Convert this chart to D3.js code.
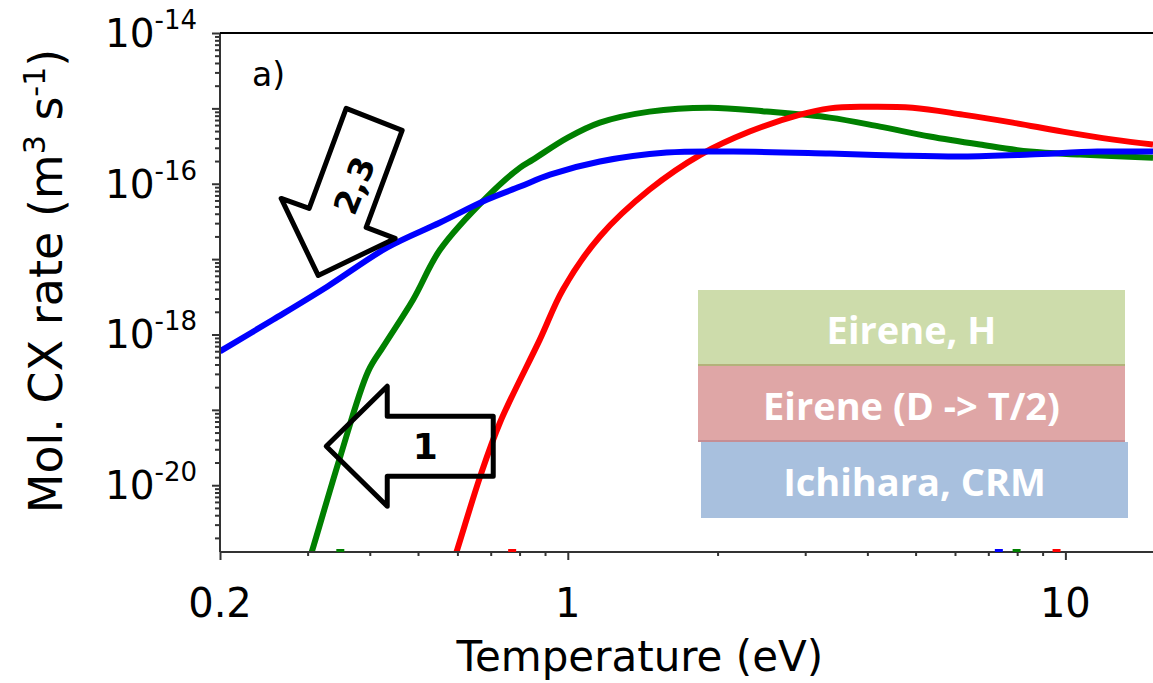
<!DOCTYPE html>
<html>
<head>
<meta charset="utf-8">
<script src="https://cdn.jsdelivr.net/npm/d3@7"></script>
<style>
  body { margin: 0; background: #fff; }
  text { font-family: 'DejaVu Sans', Verdana, sans-serif; }
</style>
</head>
<body>
<div id="chart"></div>
<script>
// Eirene, H (green)
const eireneHTemp = [0.29, 0.307, 0.349, 0.397, 0.426, 0.489, 0.554, 0.689, 0.802, 0.851, 1.0, 1.16, 1.46, 1.93, 2.51, 3.36, 4.24, 5.34, 6.73, 8.48, 10.7, 15];
const eireneHRate = [4.2e-22, 1.42e-21, 2.42e-20, 3.24e-19, 6.95e-19, 2.92e-18, 1.34e-17, 6.76e-17, 1.64e-16, 2.09e-16, 4.09e-16, 6.47e-16, 9.06e-16, 1.02e-15, 9.06e-16, 7.54e-16, 5.73e-16, 4.23e-16, 3.31e-16, 2.67e-16, 2.44e-16, 2.22e-16];

// Eirene (D -> T/2) (red)
const eireneDTemp = [0.572, 0.600, 0.667, 0.731, 0.879, 0.978, 1.16, 1.46, 1.85, 2.32, 2.93, 3.36, 3.92, 4.93, 6.22, 7.84, 9.88, 12.5, 15];
const eireneDRate = [5.35e-22, 1.42e-21, 1.32e-20, 6.84e-20, 8.61e-19, 3.96e-18, 2.0e-17, 8.38e-17, 2.44e-16, 4.92e-16, 8.26e-16, 1.0e-15, 1.05e-15, 1.02e-15, 8.26e-16, 6.47e-16, 4.92e-16, 3.85e-16, 3.31e-16];

// Ichihara, CRM (blue)
const ichiharaTemp = [0.2, 0.256, 0.329, 0.434, 0.554, 0.689, 0.802, 0.921, 1.16, 1.58, 2.15, 3.36, 4.58, 6.22, 8.48, 11.6, 15];
const ichiharaRate = [5.97e-19, 1.58e-18, 4.34e-18, 1.43e-17, 3.06e-17, 6.18e-17, 9.18e-17, 1.32e-16, 1.97e-16, 2.59e-16, 2.67e-16, 2.51e-16, 2.37e-16, 2.30e-16, 2.44e-16, 2.67e-16, 2.67e-16];

const legendLabels = ['Eirene, H', 'Eirene (D -> T/2)', 'Ichihara, CRM'];
const xTickValues = [0.2, 1, 10];
const xTickLabels = ['0.2', '1', '10'];
const yTickExponents = [-14, -16, -18, -20];

// small stray marks sitting on the x axis
const axisMarkTemp = [0.349, 0.773, 7.35, 7.98, 9.6];
const axisMarkSeries = [0, 1, 2, 0, 1];

const width = 1153, height = 683;
const colors = ['#008000', '#ff0000', '#0000ff'];
const boxFills = ['#cddcab', '#dfa6a6', '#a8c0de'];
const boxEdges = ['#b3b27a', '#c58e95', '#a8c0de'];

const svg = d3.select('#chart')
              .append('svg')
              .attr('width', width)
              .attr('height', height);

const x = d3.scaleLog()
            .domain([0.2, 15])
            .range([220, 1153]);

const y = d3.scaleLog()
            .domain([1.3e-21, 1e-14])
            .range([552, 33]);

svg.append('clipPath')
   .attr('id', 'plot-clip')
   .append('rect')
   .attr('x', 220).attr('y', 33)
   .attr('width', 933).attr('height', 519);

// legend boxes
const boxes = [
  {x: 698, y: 290, w: 427, h: 76},
  {x: 698, y: 366, w: 427, h: 76},
  {x: 701, y: 442, w: 427, h: 76}
];
boxes.forEach((b, i) => {
  svg.append('rect')
     .attr('x', b.x).attr('y', b.y)
     .attr('width', b.w).attr('height', b.h)
     .attr('fill', boxFills[i]);
  if (i < 2) {
    svg.append('line')
       .attr('x1', b.x).attr('x2', b.x + b.w)
       .attr('y1', b.y + b.h - 1).attr('y2', b.y + b.h - 1)
       .attr('stroke', boxEdges[i]).attr('stroke-width', 2);
  }
  svg.append('text')
     .attr('x', b.x + b.w / 2)
     .attr('y', b.y + 54)
     .attr('text-anchor', 'middle')
     .style('font-family', "'Open Sans', sans-serif")
     .style('font-weight', 700)
     .style('font-size', '38px')
     .attr('fill', '#fff')
     .text(legendLabels[i]);
});

// curves
const series = [
  {t: eireneHTemp, r: eireneHRate},
  {t: eireneDTemp, r: eireneDRate},
  {t: ichiharaTemp, r: ichiharaRate}
];
const line = d3.line()
               .x(d => x(d[0]))
               .y(d => y(d[1]))
               .curve(d3.curveCatmullRom.alpha(0.5));

series.forEach((s, i) => {
  svg.append('path')
     .datum(s.t.map((t, k) => [t, s.r[k]]))
     .attr('d', line)
     .attr('clip-path', 'url(#plot-clip)')
     .attr('fill', 'none')
     .attr('stroke', colors[i])
     .attr('stroke-width', 6)
     .attr('stroke-linejoin', 'round');
});

// axes
const axisColor = '#333';
const decades = (lo, hi) => d3.range(lo, hi + 1);
const yMajor = decades(-20, -14).map(e => Math.pow(10, e));
const yMinor = [];
decades(-21, -15).forEach(e => {
  d3.range(2, 10).forEach(k => {
    const v = k * Math.pow(10, e);
    if (v >= y.domain()[0] && v <= y.domain()[1]) yMinor.push(v);
  });
});
const xMinor = [];
decades(-1, 1).forEach(e => {
  d3.range(2, 10).forEach(k => {
    const v = k * Math.pow(10, e);
    if (v > 0.2 && v <= 15) xMinor.push(v);
  });
});

const yAxisMinor = d3.axisLeft(y).tickValues(yMinor).tickSize(5).tickFormat('');
const yAxisMajor = d3.axisLeft(y).tickValues(yMajor).tickSize(8).tickFormat('');
[yAxisMinor, yAxisMajor].forEach(ax => {
  svg.append('g')
     .attr('transform', 'translate(220, 0)')
     .call(ax)
     .call(g => g.select('.domain').remove())
     .call(g => g.selectAll('line').attr('stroke', axisColor).attr('stroke-width', 2));
});

const xAxisMinor = d3.axisBottom(x).tickValues(xMinor).tickSize(4).tickFormat('');
const xAxisMajor = d3.axisBottom(x).tickValues(xTickValues).tickSize(8).tickFormat('');
[xAxisMinor, xAxisMajor].forEach(ax => {
  svg.append('g')
     .attr('transform', 'translate(0, 552)')
     .call(ax)
     .call(g => g.select('.domain').remove())
     .call(g => g.selectAll('line').attr('stroke', axisColor).attr('stroke-width', 2));
});

// frame lines: left, bottom, top
svg.append('line').attr('x1', 220).attr('x2', 220).attr('y1', 33).attr('y2', 552)
   .attr('stroke', axisColor).attr('stroke-width', 2);
svg.append('line').attr('x1', 220).attr('x2', 1153).attr('y1', 552).attr('y2', 552)
   .attr('stroke', axisColor).attr('stroke-width', 2);
svg.append('line').attr('x1', 220).attr('x2', 1153).attr('y1', 33).attr('y2', 33)
   .attr('stroke', '#000').attr('stroke-width', 2);

// stray marks on the x axis
axisMarkTemp.forEach((t, i) => {
  svg.append('rect')
     .attr('x', x(t) - 4).attr('y', 549)
     .attr('width', 8).attr('height', 3)
     .attr('fill', colors[axisMarkSeries[i]]);
});

// tick labels
xTickValues.forEach((v, i) => {
  svg.append('text')
     .attr('x', x(v))
     .attr('y', 617)
     .attr('text-anchor', 'middle')
     .style('font-size', '40px')
     .text(xTickLabels[i]);
});

yTickExponents.forEach(e => {
  const t = svg.append('text')
               .attr('x', 197)
               .attr('y', y(Math.pow(10, e)) + 14)
               .attr('text-anchor', 'end')
               .style('font-size', '39px');
  t.append('tspan').text('10');
  t.append('tspan').attr('dy', -18).style('font-size', '26px').text(String(e));
});

// axis titles
svg.append('text')
   .attr('x', x(1) + 72)
   .attr('y', 671)
   .attr('text-anchor', 'middle')
   .style('font-size', '42px')
   .text('Temperature (eV)');

const yt = svg.append('text')
              .attr('transform', 'translate(62, 281) rotate(-90)')
              .attr('text-anchor', 'middle')
              .style('font-size', '46px');
yt.append('tspan').text('Mol. CX rate (m');
yt.append('tspan').attr('dy', -17).style('font-size', '30px').text('3');
yt.append('tspan').attr('dy', 17).text(' s');
yt.append('tspan').attr('dy', -17).style('font-size', '30px').text('-1');
yt.append('tspan').attr('dy', 17).text(')');

// panel letter
svg.append('text')
   .attr('x', 252).attr('y', 86)
   .style('font-size', '33px')
   .text('a)');

// annotation arrows, anchored at their tips in data space
const arrowOne = {tip: [0.327, 3.29e-20],
  pts: [[0, 0], [61, -60], [61, -30], [167, -30], [167, 30], [61, 30], [61, 60]],
  label: '1', lx: 99, ly: 0, rot: 0, size: 36};
const arrowTwo = {tip: [0.315, 6.07e-18],
  pts: [[0, 0], [-37, -77], [-9, -67], [28, -167], [84, -145], [48, -48], [77, -37]],
  label: '2,3', lx: 36, ly: -90, rot: -68, size: 33};

[arrowOne, arrowTwo].forEach(a => {
  const tx = x(a.tip[0]), ty = y(a.tip[1]);
  const g = svg.append('g').attr('transform', `translate(${tx}, ${ty})`);
  g.append('polygon')
   .attr('points', a.pts.map(p => p.join(',')).join(' '))
   .attr('fill', 'none')
   .attr('stroke', '#000')
   .attr('stroke-width', 5)
   .attr('stroke-linejoin', 'round');
  g.append('text')
   .attr('transform', `translate(${a.lx}, ${a.ly}) rotate(${a.rot})`)
   .attr('text-anchor', 'middle')
   .attr('dy', '0.36em')
   .style('font-size', a.size + 'px')
   .style('font-weight', 700)
   .text(a.label);
});
</script>
</body>
</html>
